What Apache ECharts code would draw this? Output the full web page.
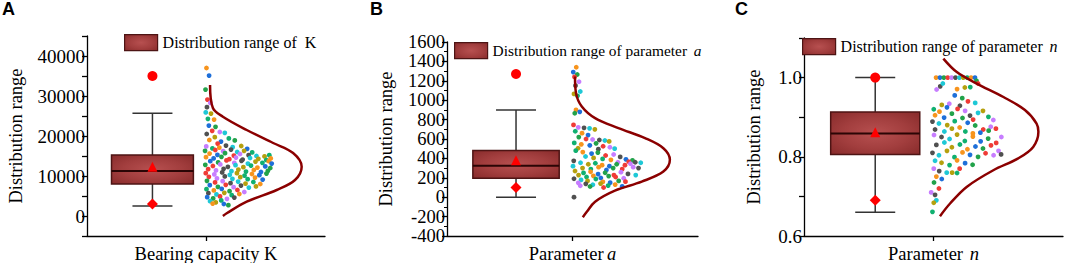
<!DOCTYPE html>
<html>
<head>
<meta charset="utf-8">
<script src="https://cdn.jsdelivr.net/npm/echarts@6/dist/echarts.min.js"></script>
<style>
  html, body { margin: 0; padding: 0; background: #fff; }
  #chart { width: 1065px; height: 263px; }
</style>
</head>
<body>
<div id="chart"></div>
<script>
// box stats: [lower whisker, q1, median, q3, upper whisker]
var boxA = [2500, 8000, 11250, 15250, 25700];
var boxB = [0, 196, 323, 481, 900];
var boxC = [0.66, 0.806, 0.859, 0.913, 1.0];

// red markers: [max, mean, min]
var marksA = [35000, 12300, 3000];
var marksB = [1270, 380, 100];
var marksC = [1.0, 0.862, 0.69];

// jittered samples [x offset on 0..100 axis, value]
var pointsA = [
  [50.2,37000],[51.3,35100],[49.8,31600],[50.6,29100],[51.8,28300],[50.4,27200],[49.9,25900],[52.1,25600],
  [50.8,24300],[53.4,24100],[51.2,22600],[54.0,22300],[52.6,21300],[55.8,21000],[50.3,20500],[57.9,20800],
  [53.7,19700],[59.6,19400],[51.4,19000],[56.3,18600],[62.1,18900],[54.9,18100],
  [50.1,17400],[58.4,17600],[61.2,17200],[64.8,17500],[52.7,16900],[55.6,17100],[67.3,16800],
  [49.6,16300],[53.9,16500],[57.2,16200],[60.5,16600],[63.1,16000],[66.0,16300],[69.4,15900],
  [51.5,15600],[54.8,15300],[58.0,15700],[61.7,15100],[64.3,15500],[67.9,15200],[71.2,15000],[74.6,14900],[76.6,15200],
  [50.0,14700],[53.2,14400],[56.5,14800],[59.8,14200],[62.6,14600],[65.4,14100],[68.5,14500],[72.0,14300],[75.3,14000],[77.2,14400],
  [51.8,13700],[55.1,13400],[58.6,13900],[61.9,13300],[64.9,13800],[67.6,13100],[70.8,13600],[73.7,13300],[76.4,13700],[77.6,13100],
  [49.7,12800],[52.9,12500],[56.0,12900],[59.2,12300],[62.4,12700],[65.7,12200],[68.9,12600],[71.6,12100],[74.9,12400],[77.0,12000],
  [50.9,11700],[54.2,11400],[57.4,11800],[60.7,11200],[63.6,11600],[66.8,11100],[70.1,11500],[73.1,11000],[76.0,11300],
  [49.9,10700],[53.5,10400],[56.8,10900],[60.0,10300],[63.0,10700],[66.2,10100],[69.3,10500],[72.4,10200],[75.4,10600],
  [51.2,9800],[54.6,9400],[57.9,9900],[61.1,9300],[64.4,9700],[67.5,9200],[70.6,9600],[73.8,9100],
  [50.4,8800],[53.8,8400],[57.0,8700],[60.3,8200],[63.5,8600],[66.6,8100],[69.9,8500],[72.8,8000],
  [51.6,7700],[55.0,7300],[58.3,7800],[61.6,7200],[64.7,7600],[68.0,7100],[71.0,7400],
  [50.2,6700],[53.3,6400],[56.6,6800],[59.9,6200],[63.2,6500],[66.1,6000],
  [51.0,5700],[54.4,5400],[57.7,5800],[60.8,5200],[64.0,5500],
  [50.5,4700],[53.0,4400],[55.9,4900],[58.8,4300],[61.9,4600],
  [51.7,3700],[54.1,3400],[56.4,3900],[52.8,3100],[57.5,3000],[59.4,2700]
];
var pointsB = [
  [51.5,1340],[50.3,1290],[51.9,1265],[50.8,1240],[52.6,1190],[51.2,1150],[53.1,1090],[50.6,1065],[52.0,1045],
  [51.4,900],[52.9,880],[50.9,865],
  [50.4,745],[52.3,720],[54.6,715],[56.8,710],[58.9,700],
  [51.1,680],[53.8,660],[56.2,640],[52.5,620],[55.4,600],[58.0,595],[60.7,590],[62.9,585],[64.6,575],
  [50.7,560],[53.5,545],[56.9,535],[59.4,555],[62.2,525],[64.9,515],[60.3,495],[66.8,500],[52.2,505],
  [51.3,480],[54.1,465],[57.6,450],[60.1,460],[63.2,430],[66.4,440],[69.0,415],[55.2,420],[58.4,405],[62.0,395],
  [65.3,385],[71.3,390],[73.9,380],[72.4,365],[68.1,360],
  [50.5,375],[53.2,355],[56.3,340],[59.1,350],[61.8,330],[64.7,320],[67.6,340],[70.9,330],[74.2,310],[76.3,300],
  [50.2,320],[54.0,300],[57.3,290],[60.4,310],[63.5,280],[66.2,300],[69.8,290],[73.1,345],[75.0,360],[77.2,355],
  [51.0,270],[54.4,250],[57.2,262],[60.2,238],[63.0,252],[66.5,228],[69.3,258],[72.1,240],[75.2,228],
  [52.4,228],[55.6,208],[58.3,220],[61.3,198],[64.4,218],[67.2,208],[70.4,195],
  [50.6,190],[53.4,178],[56.0,168],[59.3,188],[62.1,158],[65.0,150],[68.4,168],[71.1,160],
  [52.3,148],[55.3,138],[58.1,128],[61.2,140],[64.2,120],[67.0,130],[69.8,112],[57.0,110],[62.4,100],[53.1,118],
  [50.6,0]
];
var pointsC = [
  [51.0,1.0],[52.5,1.0],[54.0,1.0],[55.5,1.0],[57.0,1.0],[58.5,1.0],[60.0,1.0],[61.5,1.0],[63.0,1.0],[64.5,1.0],[66.0,1.0],
  [66.6,0.992],[67.2,0.985],[51.2,0.970],[52.6,0.978],[53.6,0.985],[62.1,0.975],[64.2,0.976],[59.1,0.971],
  [58.2,0.955],[61.1,0.948],[63.3,0.940],[56.1,0.934],[60.2,0.929],[66.1,0.936],[53.2,0.931],
  [50.1,0.920],[52.3,0.914],[55.2,0.925],[57.1,0.909],[59.3,0.921],[62.2,0.916],[64.1,0.904],[67.2,0.911],
  [69.1,0.916],[71.2,0.901],[50.6,0.905],[54.1,0.899],[61.2,0.898],[65.3,0.894],[73.1,0.893],
  [49.6,0.889],[52.1,0.884],[55.3,0.880],[58.2,0.890],[60.1,0.874],[63.2,0.886],[66.1,0.879],[69.2,0.869],
  [72.1,0.876],[50.6,0.869],[54.2,0.864],[57.1,0.871],[62.3,0.864],[65.2,0.859],[68.1,0.861],[71.3,0.866],[74.1,0.871],
  [50.2,0.855],[53.1,0.850],[56.2,0.845],[59.1,0.856],[62.1,0.840],[65.2,0.851],[68.2,0.839],[71.1,0.846],
  [74.2,0.835],[76.2,0.850],[51.1,0.830],[54.2,0.836],[57.1,0.824],[60.2,0.831],[63.1,0.819],[66.2,0.826],
  [69.1,0.821],[72.2,0.829],[75.1,0.815],
  [49.6,0.810],[52.1,0.804],[55.2,0.815],[58.1,0.799],[61.2,0.811],[64.1,0.805],[67.2,0.800],[70.1,0.809],
  [73.2,0.804],[76.1,0.806],[50.6,0.790],[53.1,0.785],[56.2,0.779],[59.1,0.791],[62.2,0.784],[65.1,0.780],[60.1,0.770],
  [50.1,0.770],[52.2,0.764],[55.1,0.760],[57.2,0.760],[59.1,0.759],[51.1,0.750],[53.2,0.744],[50.2,0.735],[52.1,0.720],
  [49.1,0.710],[50.6,0.704],[51.1,0.690],[50.1,0.684],[49.6,0.661]
];

// normal-fit curves: [x on 0..100 axis, value]
var curveA = [[51.7,32750],[52.9,27000],[57.1,24825],[67.1,21500],[78.2,18250],[86.6,15750],[90.2,12325],
  [87.4,9000],[79.7,6500],[67.1,3575],[58.7,675],[57.1,0]];
var curveB = [[51.0,1245],[51.4,1073],[53.7,935],[59.0,815],[68.3,712],[78.9,609],[86.2,505],[88.8,385],
  [86.2,264],[77.6,161],[66.9,68],[59.0,-46],[55.7,-150],[54.1,-207]];
var curveC = [[53.8,1.048],[59.0,1.014],[66.7,0.985],[77.0,0.951],[85.3,0.918],[89.8,0.884],[90.5,0.863],
  [88.5,0.825],[82.7,0.796],[73.1,0.766],[62.8,0.724],[56.4,0.682],[52.5,0.650]];

var legendNames = ['Distribution range of K', 'Distribution range of parameter a', 'Distribution range of parameter n'];
var xNames = ['{n|Bearing capacity K}', '{n|Parameter} {i|a}', '{n|Parameter}  {i|n}'];
var panelLetters = ['A', 'B', 'C'];

var SERIF = "'Liberation Serif', 'Times New Roman', serif";
var dotColors = ['#f7941d', '#1e6fd9', '#22a24a', '#ef3b36', '#c77dff', '#505050', '#1ec8d6', '#b5a00e', '#10b070'];
var BOX_X = 27.5, BOX_HW = 17.2, CAP_HW = 20;

function boxFill() {
  return {
    type: 'radial', x: 0.5, y: 0.5, r: 0.75,
    colorStops: [{ offset: 0, color: '#b75050' }, { offset: 0.5, color: '#a23e3e' }, { offset: 1, color: '#842828' }]
  };
}

function renderBox(params, api) {
  var lo = api.value(0), q1 = api.value(1), md = api.value(2), q3 = api.value(3), hi = api.value(4);
  var pTop = api.coord([BOX_X, hi]), pBot = api.coord([BOX_X, lo]);
  var pQ3 = api.coord([BOX_X, q3]), pQ1 = api.coord([BOX_X, q1]), pMd = api.coord([BOX_X, md]);
  var xl = api.coord([BOX_X - BOX_HW, q3])[0], xr = api.coord([BOX_X + BOX_HW, q3])[0];
  var cx = pTop[0];
  var wStyle = { stroke: '#333', lineWidth: 1.5 };
  return {
    type: 'group',
    children: [
      { type: 'line', shape: { x1: cx, y1: pTop[1], x2: cx, y2: pQ3[1] }, style: wStyle },
      { type: 'line', shape: { x1: cx, y1: pQ1[1], x2: cx, y2: pBot[1] }, style: wStyle },
      { type: 'line', shape: { x1: cx - CAP_HW, y1: pTop[1], x2: cx + CAP_HW, y2: pTop[1] }, style: wStyle },
      { type: 'line', shape: { x1: cx - CAP_HW, y1: pBot[1], x2: cx + CAP_HW, y2: pBot[1] }, style: wStyle },
      { type: 'rect', shape: { x: xl, y: pQ3[1], width: xr - xl, height: pQ1[1] - pQ3[1] },
        style: { fill: boxFill(), stroke: '#4d1414', lineWidth: 1.5 } },
      { type: 'line', shape: { x1: xl, y1: pMd[1], x2: xr, y2: pMd[1] }, style: { stroke: '#2a0505', lineWidth: 2 } }
    ]
  };
}

var boxes = [boxA, boxB, boxC];
var marks = [marksA, marksB, marksC];
var points = [pointsA, pointsB, pointsC];
var curves = [curveA, curveB, curveC];

var grids = [
  { left: 87, top: 36, width: 238, height: 200, containLabel: false, outerBoundsMode: 'none' },
  { left: 447, top: 42, width: 251, height: 194, containLabel: false, outerBoundsMode: 'none' },
  { left: 804, top: 38, width: 259, height: 198, containLabel: false, outerBoundsMode: 'none' }
];
var yRanges = [
  { min: -5000, max: 45000, interval: 5000, nameGap: 62, font: 19 },
  { min: -400, max: 1600, interval: 200, nameGap: 52, font: 18.5 },
  { min: 0.6, max: 1.1, interval: 0.1, nameGap: 41, font: 19 }
];
var yFormatters = [
  function (v) { return (v >= 0 && v <= 40000 && v % 10000 === 0) ? String(v) : ''; },
  function (v) { return String(v); },
  function (v) { var r = Math.round(v * 10); return (r % 2 === 0 && r <= 10) ? (r / 10).toFixed(1) : ''; }
];
var legendPos = [{ left: 124, top: 34 }, { left: 454, top: 42 }, { left: 802, top: 38 }];
var legendFont = [16, 15.4, 16];
var titlePos = [2, 370, 735];

var axisLineStyle = { color: '#000', width: 1.3 };
var richText = {
  n: { fontFamily: SERIF, fontSize: 18.5, color: '#000' },
  i: { fontFamily: SERIF, fontSize: 18.5, color: '#000', fontStyle: 'italic' }
};
function legendRich(size) {
  return {
    n: { fontFamily: SERIF, fontSize: size, color: '#000' },
    i: { fontFamily: SERIF, fontSize: size, color: '#000', fontStyle: 'italic' }
  };
}

var option = { animation: false, backgroundColor: '#fff', title: [], grid: grids, xAxis: [], yAxis: [], legend: [], series: [] };

for (var i = 0; i < 3; i++) {
  option.title.push({
    text: panelLetters[i], left: titlePos[i], top: 0, padding: 0,
    textStyle: { fontFamily: "'Liberation Sans', Arial, sans-serif", fontWeight: 'bold', fontSize: 18, color: '#000' }
  });
  option.xAxis.push({
    type: 'value', gridIndex: i, min: 0, max: 100, interval: 50,
    axisLine: { show: true, onZero: false, lineStyle: axisLineStyle },
    axisTick: { show: true, customValues: [50], length: 5, lineStyle: axisLineStyle },
    axisLabel: { show: false },
    splitLine: { show: false },
    name: xNames[i], nameLocation: 'middle', nameGap: 8,
    nameTextStyle: { rich: richText }
  });
  option.yAxis.push({
    type: 'value', gridIndex: i,
    min: yRanges[i].min, max: yRanges[i].max, interval: yRanges[i].interval,
    axisLine: { show: true, onZero: false, lineStyle: axisLineStyle },
    axisTick: { show: true, length: 5, lineStyle: axisLineStyle },
    minorTick: { show: i === 1, splitNumber: 2, length: 3, lineStyle: { color: '#000', width: 1 } },
    axisLabel: { fontFamily: SERIF, fontSize: yRanges[i].font, color: '#000', margin: 2,
      showMinLabel: true, showMaxLabel: true, hideOverlap: false, formatter: yFormatters[i] },
    splitLine: { show: false },
    name: 'Distribution range', nameLocation: 'middle', nameGap: yRanges[i].nameGap,
    nameTextStyle: { fontFamily: SERIF, fontSize: 18.5, color: '#000' }
  });
  option.legend.push({
    left: legendPos[i].left, top: legendPos[i].top, padding: 0, itemGap: 6,
    itemWidth: 33, itemHeight: 16, icon: 'rect', selectedMode: false,
    data: [{ name: legendNames[i], itemStyle: { color: boxFill(), borderColor: '#4d1414', borderWidth: 1.2 } }],
    formatter: function (name) {
      if (name === 'Distribution range of K') return '{n|Distribution range of  K}';
      var parts = name.split(' ');
      var last = parts.pop();
      return '{n|' + parts.join(' ') + '}  {i|' + last + '}';
    },
    textStyle: { rich: legendRich(legendFont[i]) }
  });
  option.series.push({
    name: legendNames[i], type: 'custom', xAxisIndex: i, yAxisIndex: i,
    renderItem: renderBox, silent: true,
    itemStyle: { color: '#a23e3e' },
    encode: { x: -1, y: [0, 1, 2, 3, 4] },
    data: [boxes[i]]
  });
  option.series.push({
    type: 'line', xAxisIndex: i, yAxisIndex: i, data: curves[i],
    smooth: 0.35, showSymbol: false, silent: true,
    lineStyle: { color: '#8b0000', width: 2.5 }
  });
  option.series.push({
    type: 'scatter', xAxisIndex: i, yAxisIndex: i, data: points[i], symbolSize: 4.8, silent: true,
    itemStyle: { opacity: 1, color: function (p) { return dotColors[p.dataIndex % dotColors.length]; } }
  });
  option.series.push({
    type: 'scatter', xAxisIndex: i, yAxisIndex: i, silent: true,
    itemStyle: { color: '#ff0000', opacity: 1 },
    data: [
      { value: [BOX_X, marks[i][0]], symbol: 'circle', symbolSize: 10 },
      { value: [BOX_X, marks[i][1]], symbol: 'triangle', symbolSize: 10 },
      { value: [BOX_X, marks[i][2]], symbol: 'diamond', symbolSize: 11 }
    ]
  });
}

var chart = echarts.init(document.getElementById('chart'), null, { renderer: 'svg' });
chart.setOption(option);
</script>
</body>
</html>
